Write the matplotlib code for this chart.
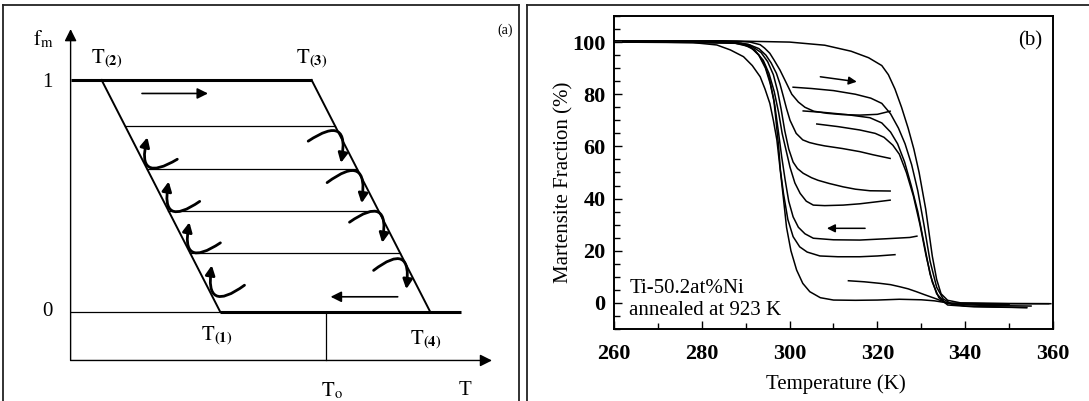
import matplotlib
matplotlib.use('Agg')
import matplotlib.pyplot as plt
from matplotlib.patches import FancyArrowPatch
from matplotlib.ticker import MultipleLocator

plt.rcParams['font.family'] = ['Liberation Serif', 'DejaVu Serif']
plt.rcParams['mathtext.fontset'] = 'stix'

# ---------------- panel (a): schematic (arbitrary units) ----------------
t2, t3 = 0.31, 2.41        # f_m = 1 corners
t1, t4 = 1.495, 3.595      # f_m = 0 corners
t_o = 2.558
t_tip = 4.214              # end of T axis arrow
t_base_end = 3.905         # end of thick f_m = 0 line
f_axis = -0.211            # height of T axis
f_tip = 1.22               # end of f_m axis arrow
f_levels = [0.253, 0.436, 0.617, 0.80]

# curved arrows (tail, head)
left_turns = [((1.067, 0.658), (0.768, 0.753)),
              ((1.291, 0.476), (0.981, 0.562)),
              ((1.498, 0.297), (1.188, 0.386)),
              ((1.739, 0.114), (1.412, 0.200))]
right_turns = [((2.376, 0.736), (2.703, 0.642)),
               ((2.565, 0.557), (2.910, 0.468)),
               ((2.789, 0.386), (3.116, 0.297)),
               ((3.030, 0.178), (3.357, 0.097))]
heat_arrow = ((0.714, 0.942), (1.374, 0.942))
cool_arrow = ((3.271, 0.064), (2.600, 0.064))

# ---------------- panel (b): Ti-50.2at%Ni data ----------------
h0_T = [260, 285, 300, 308, 314, 318, 321, 322.5, 324, 325.5, 327, 328.3, 329.5, 331, 332.5, 333.5, 334.5, 336, 339, 350, 359.5]
h0_F = [100.5, 100.5, 100, 98.8, 96.5, 94, 91, 87.5, 82, 75, 67, 59, 50, 36, 18, 9, 3.5, 1, 0, -0.3, -0.3]
h1_T = [300.8, 305, 310, 315, 318.5, 321, 323, 324.8, 326.3, 327.8, 329.2, 330.6, 332, 333.5, 335, 337, 345, 355]
h1_F = [82.7, 82.2, 81.4, 80, 78.5, 76.5, 72.5, 67, 61, 53, 43, 30, 16, 6, 1.5, -0.5, -1, -1.2]
h2_T = [303.1, 308, 313, 318.3, 321, 323, 324.6, 326.2, 327.7, 329.2, 330.6, 332, 333.5, 335.5, 340, 354]
h2_F = [73.6, 73, 72.2, 71, 69, 65.5, 61, 54, 45, 35, 23, 11, 3.5, 0, -1.2, -1.8]
h3_T = [306.2, 311, 316, 319.5, 321.5, 323.5, 325, 326.6, 328.2, 329.7, 331.1, 332.5, 334, 336, 342, 354]
h3_F = [68.6, 67.6, 66.3, 65, 63.5, 60.5, 57, 50, 41, 30, 18, 8, 2, -0.8, -1.5, -1.8]
h4_T = [313.4, 317, 320.6, 323, 325.1, 327, 328.9, 330.5, 332, 333.5, 335, 337, 345, 350]
h4_F = [8.5, 8.1, 7.5, 7, 6.2, 5.4, 4.3, 3.3, 2.4, 1.5, 0.5, -0.3, -0.6, -0.6]

c0_T = [359, 345, 336, 333, 330, 325, 320, 315, 310, 307, 304.6, 303, 301.6, 300.3, 299.3, 298.6, 297.8, 297.1, 296.3, 295.5, 294.4, 293.3, 291.5, 289.5, 286.5, 283.4, 278, 260]
c0_F = [-0.3, -0.2, 0, 0.8, 1.2, 1.4, 1.1, 1.0, 1.1, 2, 4.3, 7.5, 12.6, 20, 29, 40, 52, 62.5, 70, 76.5, 82, 86.7, 91, 94.4, 97, 98.9, 99.8, 100]
c1_T = [322.9, 320, 316, 312, 308.5, 305.5, 303.5, 302, 300.5, 299.2, 297.8, 296.5, 295.5, 294.3, 293.3, 291, 288, 262]
c1_F = [73.5, 72.3, 72, 72.2, 72.7, 73.5, 75, 77, 80, 84.5, 89.3, 93, 95.7, 97.7, 99, 100, 100.3, 100.3]
c2_T = [322.9, 319, 316, 312, 308, 306.2, 304.5, 303, 301.5, 300.1, 299.3, 298.6, 297.8, 297, 295.8, 294.6, 293, 290.5, 287, 262]
c2_F = [55.4, 56.8, 58, 59.2, 60.2, 60.8, 61.5, 62.5, 65, 70, 74.5, 79, 84, 88, 92, 95, 97.5, 99.2, 100, 100.3]
c3_T = [322.9, 318.3, 315, 312.2, 309, 306.5, 305, 303.1, 301.8, 300.8, 299.8, 298.9, 298.1, 297.3, 296.3, 295, 293.5, 291, 287, 262]
c3_F = [42.9, 43, 43.6, 44.5, 45.8, 47, 48, 49.7, 51.5, 54, 59, 66, 74, 81, 87.5, 92.5, 96, 98.8, 100, 100.3]
c4_T = [322.9, 320, 316, 312.2, 308, 305.4, 303.8, 302.4, 301.2, 300.1, 299.2, 298.3, 297.5, 296.5, 295.3, 294, 292, 289, 262]
c4_F = [39.4, 38.8, 38, 37.5, 37.3, 37.5, 39, 42, 46, 52, 58.5, 65, 73, 81, 88, 93, 97, 99.5, 100.2]
c5_T = [329, 327.4, 322, 316, 310, 305.4, 303.5, 302, 300.8, 299.8, 299, 298.2, 297.5, 296.6, 295.6, 294.5, 293, 291, 287, 262]
c5_F = [25.6, 25.1, 24.6, 24.1, 24.2, 24.8, 26.5, 29, 33, 39, 47, 56, 65, 76, 84, 90, 95, 98.5, 99.8, 100.2]
c6_T = [324, 320, 316, 311, 306.9, 304, 302.3, 300.8, 299.6, 298.6, 297.9, 297.5, 296.9, 296.4, 295.4, 294.4, 293, 291, 287, 262]
c6_F = [18.5, 18, 17.7, 17.7, 18, 19.5, 21.5, 25.4, 32, 42, 51, 60, 70, 78, 86, 91, 95, 98.2, 99.8, 100.2]

curves = [(h0_T, h0_F), (h1_T, h1_F), (h2_T, h2_F), (h3_T, h3_F), (h4_T, h4_F),
          (c0_T, c0_F), (c1_T, c1_F), (c2_T, c2_F), (c3_T, c3_F),
          (c4_T, c4_F), (c5_T, c5_F), (c6_T, c6_F)]

W, H = 1089, 401
fig = plt.figure(figsize=(W / 100, H / 100), dpi=100)

# ================= panel (a) =================
axa = fig.add_axes([3 / W, 0, 516 / W, 396 / H])
axa.set_xlim(-0.676, 4.484)
axa.set_ylim(-0.386, 1.324)
axa.set_xticks([])
axa.set_yticks([])
axa.spines['bottom'].set_visible(False)
for s in ['top', 'left', 'right']:
    axa.spines[s].set_linewidth(1.3)
    axa.spines[s].set_color('#222222')

k = 'black'
# axes with arrow heads
axa.annotate('', xy=(0, f_tip), xytext=(0, f_axis),
             arrowprops=dict(arrowstyle='-|>', color=k, lw=1.0, mutation_scale=18, shrinkA=0, shrinkB=0))
axa.annotate('', xy=(t_tip, f_axis), xytext=(0, f_axis),
             arrowprops=dict(arrowstyle='-|>', color=k, lw=1.0, mutation_scale=18, shrinkA=0, shrinkB=0))
# f = 1 and f = 0 lines
axa.plot([0, t3], [1, 1], color=k, lw=2.2, solid_capstyle='butt')
axa.plot([0, t1], [0, 0], color=k, lw=0.9)
axa.plot([t1, t_base_end], [0, 0], color=k, lw=2.2, solid_capstyle='butt')
# slanted edges
axa.plot([t2, t1], [1, 0], color=k, lw=1.4)
axa.plot([t3, t4], [1, 0], color=k, lw=1.4)
# T_o marker
axa.plot([t_o, t_o], [f_axis, 0], color=k, lw=0.9)
# interior partial cycles
for f in f_levels:
    axa.plot([t1 + (t2 - t1) * f, t4 + (t3 - t4) * f], [f, f], color=k, lw=0.9)

for tail, head in left_turns + right_turns:
    axa.add_patch(FancyArrowPatch(tail, head, connectionstyle='arc3,rad=-1.2',
                                  arrowstyle='-|>', mutation_scale=14, lw=2.0, color=k,
                                  shrinkA=0, shrinkB=0))
for tail, head in [heat_arrow, cool_arrow]:
    axa.annotate('', xy=head, xytext=tail,
                 arrowprops=dict(arrowstyle='-|>', color=k, lw=1.2, mutation_scale=16,
                                 shrinkA=0, shrinkB=0))

fs = 15
axa.text(-0.276, 1.174, r'$\mathrm{f}_{\mathrm{m}}$', fontsize=fs, ha='center', va='center')
axa.text(-0.236, 0.991, '1', fontsize=fs, ha='center', va='center')
axa.text(-0.236, 0.0, '0', fontsize=fs, ha='center', va='center')
axa.text(0.361, 1.093, r'$\mathrm{T}_{\mathbf{(2)}}$', fontsize=fs, ha='center', va='center')
axa.text(2.41, 1.093, r'$\mathrm{T}_{\mathbf{(3)}}$', fontsize=fs, ha='center', va='center')
axa.text(1.464, -0.104, r'$\mathrm{T}_{\mathbf{(1)}}$', fontsize=fs, ha='center', va='center')
axa.text(3.547, -0.119, r'$\mathrm{T}_{\mathbf{(4)}}$', fontsize=fs, ha='center', va='center')
axa.text(2.617, -0.342, r'$\mathrm{T}_{\mathrm{o}}$', fontsize=fs, ha='center', va='center')
axa.text(3.943, -0.342, 'T', fontsize=fs, ha='center', va='center')
axa.text(4.349, 1.215, '(a)', fontsize=10, ha='center', va='center')

# ================= frame of panel (b) =================
axf = fig.add_axes([527 / W, 0, 0.6, 396 / H])
axf.set_xticks([])
axf.set_yticks([])
axf.patch.set_alpha(0)
axf.spines['bottom'].set_visible(False)
axf.spines['right'].set_visible(False)
for s in ['top', 'left']:
    axf.spines[s].set_linewidth(1.3)
    axf.spines[s].set_color('#222222')

# ================= panel (b) =================
axb = fig.add_axes([614 / W, 1 - 329 / H, 439 / W, 313 / H])
for T, F in curves:
    axb.plot(T, F, color=k, lw=1.1)

axb.set_xlim(260, 360)
axb.set_ylim(-10, 110)
axb.xaxis.set_major_locator(MultipleLocator(20))
axb.xaxis.set_minor_locator(MultipleLocator(10))
axb.yaxis.set_major_locator(MultipleLocator(20))
axb.yaxis.set_minor_locator(MultipleLocator(5))
axb.set_yticks([0, 20, 40, 60, 80, 100])
axb.tick_params(which='both', direction='in', top=False, right=False, width=1.0)
axb.tick_params(which='major', length=6)
axb.tick_params(which='minor', length=4)
axb.tick_params(axis='x', which='major', pad=11, labelsize=16)
axb.tick_params(axis='y', which='major', pad=6, labelsize=16)
for lab in axb.get_xticklabels() + axb.get_yticklabels():
    lab.set_fontweight('bold')
for s in axb.spines.values():
    s.set_linewidth(1.4)

axb.set_xlabel('Temperature (K)', fontsize=15)
axb.set_ylabel('Martensite Fraction (%)', fontsize=15)
axb.xaxis.set_label_coords(0.505, -0.145)
axb.yaxis.set_label_coords(-0.093, 0.47)

axb.annotate('', xy=(315.3, 84.8), xytext=(307, 86.7),
             arrowprops=dict(arrowstyle='-|>', color=k, lw=1.1, mutation_scale=12,
                             shrinkA=0, shrinkB=0))
axb.annotate('', xy=(308.5, 28.6), xytext=(317.2, 28.6),
             arrowprops=dict(arrowstyle='-|>', color=k, lw=1.1, mutation_scale=12,
                             shrinkA=0, shrinkB=0))
axb.text(0.975, 0.92, '(b)', transform=axb.transAxes, fontsize=15, ha='right', va='center')
axb.text(0.035, 0.13, 'Ti-50.2at%Ni', transform=axb.transAxes, fontsize=15, ha='left', va='center')
axb.text(0.035, 0.058, 'annealed at 923 K', transform=axb.transAxes, fontsize=15, ha='left', va='center')

fig.savefig('out.png', dpi=100)
